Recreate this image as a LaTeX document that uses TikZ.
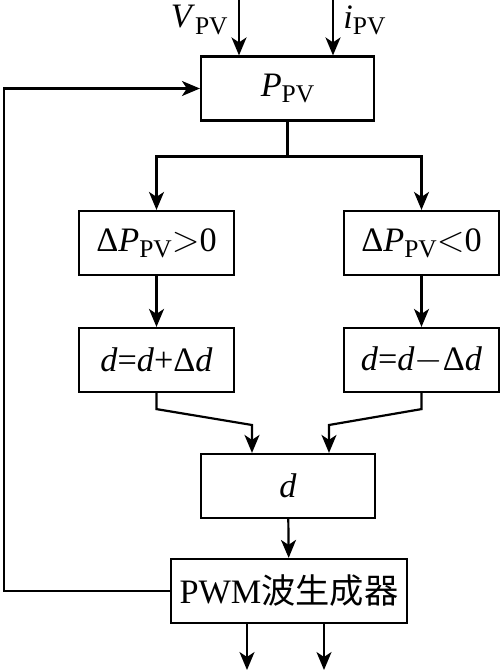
\documentclass[tikz,border=0pt]{standalone}
\usepackage{fontspec}
\setmainfont{Liberation Serif}
\newfontfamily\cjkfont{Noto Sans CJK SC}
\usetikzlibrary{arrows.meta, positioning}

\tikzset{
  blk/.style={draw, line width=1.25pt, minimum height=1.28cm, inner sep=0pt,
              font=\fontsize{19.5}{22}\selectfont},
  lbl/.style={inner sep=0pt, font=\fontsize{19.5}{22}\selectfont},
  flow/.style={line width=1.25pt, -{Stealth[length=3.6mm,width=3mm,inset=1mm]}},
  wire/.style={line width=1.25pt},
}
\newcommand{\pv}{\raisebox{-0.4ex}{\fontsize{14.5}{15}\selectfont PV}}

\begin{document}
\begin{tikzpicture}[x=0.02cm, y=-0.02cm]
    \useasboundingbox (0,0) rectangle (500,670);
    % Blocks
    \node[blk, minimum width=3.46cm] (ppv) at (287.5,88.5) {\textit{P}\pv};
    \node[blk, minimum width=3.1cm] (dpos) at (156.5,243) {Δ\textit{P}\pv$>$0};
    \node[blk, minimum width=3.1cm] (dneg) at (421.5,243) {Δ\textit{P}\pv$<$0};
    \node[blk, minimum width=3.1cm] (inc) at (156.5,360) {\textit{d}=\textit{d}+Δ\textit{d}};
    \node[blk, minimum width=3.1cm] (dec) at (421.5,360) {\textit{d}=\textit{d}$-$Δ\textit{d}};
    \node[blk, minimum width=3.48cm] (duty) at (288,486) {\textit{d}};
    \node[blk, minimum width=4.72cm] (pwm) at (289,591) {PWM{\cjkfont 波生成器}};

    % Inputs
    \coordinate (vin) at (239,0);
    \coordinate (iin) at (333,0);
    \draw[flow] (vin) -- (vin |- ppv.north);
    \draw[flow] (iin) -- (iin |- ppv.north);
    \node[lbl, anchor=east] (vlab) at (228,20) {\textit{V}\pv};
    \node[lbl, anchor=west] (ilab) at (343,20) {\textit{i}\pv};

    % Split
    \draw[wire] (ppv.south) -- ++(0,35) coordinate (sp);
    \draw[flow] (sp) -| (dpos.north);
    \draw[flow] (sp) -| (dneg.north);
    \draw[flow] (dpos) -- (inc);
    \draw[flow] (dneg) -- (dec);

    % Merge
    \coordinate (m1) at (252,425);
    \coordinate (m2) at (329,425);
    \draw[flow] (inc.south) -- ++(0,16) -- (m1) -- (m1 |- duty.north);
    \draw[flow] (dec.south) -- ++(0,16) -- (m2) -- (m2 |- duty.north);
    \draw[flow] (duty) -- (pwm);

    % Feedback
    \coordinate (fb) at (4,591);
    \draw[flow] (pwm.west) -- (fb) |- (ppv.west);

    % Outputs
    \coordinate (o1) at (247,670);
    \coordinate (o2) at (324,670);
    \draw[flow] (o1 |- pwm.south) -- (o1);
    \draw[flow] (o2 |- pwm.south) -- (o2);
\end{tikzpicture}
\end{document}
